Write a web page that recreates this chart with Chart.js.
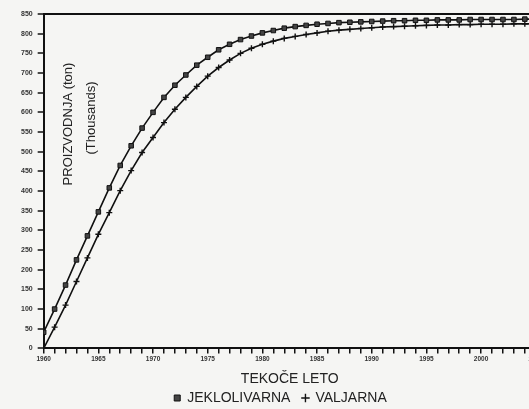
<!DOCTYPE html>
<html>
<head>
<meta charset="utf-8">
<script src="https://cdn.jsdelivr.net/npm/chart.js@4"></script>
<style>
  html, body { margin: 0; padding: 0; background: #f5f5f3; overflow: hidden; }
  #wrap { position: relative; width: 545px; height: 409px; }
</style>
</head>
<body>
<div id="wrap"><canvas id="chart"></canvas></div>
<script>
// years on the x axis
const years = [];
for (let y = 1960; y <= 2005; y++) years.push(y);

// production, thousands of tons
const jeklolivarna = [41, 100, 161, 225, 286, 347, 408, 465, 515, 560,
    600, 638, 669, 695, 720, 740, 759, 773, 785, 794,
    802, 808, 814, 818, 821, 824, 826, 828, 829, 830,
    831, 832, 833, 833, 834, 834, 835, 835, 835, 836,
    836, 836, 836, 836, 837, 837];
const valjarna = [0, 54, 110, 170, 230, 290, 345, 401, 452, 498,
    536, 574, 608, 638, 666, 692, 714, 733, 750, 763,
    773, 781, 788, 793, 798, 802, 806, 809, 811, 813,
    815, 817, 818, 819, 820, 821, 822, 822, 823, 823,
    824, 824, 824, 825, 825, 825];

const yMax = 850;
const yStep = 50;

function toPoints(vals) {
    return vals.map((v, i) => ({ x: years[i], y: v }));
}

// rotated axis caption that sits inside the plot
const insideCaption = {
    id: "insideCaption",
    afterDraw(chart) {
        const ctx = chart.ctx;
        const a = chart.chartArea;
        ctx.save();
        ctx.fillStyle = "#222";
        ctx.textAlign = "center";
        ctx.textBaseline = "middle";
        ctx.font = "13px 'Liberation Sans', Arial, sans-serif";
        ctx.translate(a.left + 25, a.top + 110);
        ctx.rotate(-Math.PI / 2);
        ctx.fillText("PROIZVODNJA (ton)", 0, 0);
        ctx.fillText("(Thousands)", 6, 23);
        ctx.restore();
    }
};

new Chart(document.getElementById("chart"), {
    type: "line",
    data: {
        datasets: [{
            label: "JEKLOLIVARNA",
            data: toPoints(jeklolivarna),
            borderColor: "#111",
            backgroundColor: "#333",
            borderWidth: 1.6,
            pointStyle: "rect",
            pointRadius: 3.2,
            pointBackgroundColor: "#444",
            pointBorderColor: "#111",
            pointBorderWidth: 1,
            tension: 0
        }, {
            label: "VALJARNA",
            data: toPoints(valjarna),
            borderColor: "#111",
            backgroundColor: "#111",
            borderWidth: 1.6,
            pointStyle: "cross",
            pointRadius: 3,
            pointBorderColor: "#111",
            pointBorderWidth: 1.4,
            tension: 0
        }]
    },
    options: {
        responsive: true,
        maintainAspectRatio: false,
        animation: false,
        layout: { padding: { top: 14, left: 16, right: 0, bottom: -6 } },
        plugins: {
            legend: {
                position: "bottom",
                labels: {
                    usePointStyle: true,
                    boxWidth: 6,
                    boxHeight: 6,
                    padding: 12,
                    color: "#222",
                    font: { family: "'Liberation Sans', Arial, sans-serif", size: 14 }
                }
            },
            tooltip: { enabled: false }
        },
        scales: {
            x: {
                type: "linear",
                min: 1960,
                max: 2005,
                border: { display: true, color: "#111", width: 2 },
                grid: { drawOnChartArea: false, drawTicks: true, tickLength: 5, color: "#111", lineWidth: 1.5 },
                ticks: {
                    stepSize: 1,
                    autoSkip: false,
                    maxRotation: 0,
                    padding: 2,
                    color: "#333",
                    font: { family: "'Liberation Sans', Arial, sans-serif", size: 6.5, weight: "bold" },
                    callback: v => (v % 5 === 0 ? String(v) : "")
                },
                title: {
                    display: true,
                    text: "TEKOČE LETO",
                    color: "#222",
                    padding: { top: 6, bottom: -9 },
                    font: { family: "'Liberation Sans', Arial, sans-serif", size: 14 }
                }
            },
            y: {
                min: 0,
                max: yMax,
                border: { display: true, color: "#111", width: 2 },
                grid: {
                    drawOnChartArea: true,
                    tickLength: 6,
                    lineWidth: 2,
                    color: c => (c.tick && c.tick.value === yMax ? "#111" : "rgba(0,0,0,0)"),
                    tickColor: "#111",
                    tickWidth: 1.5
                },
                ticks: {
                    stepSize: yStep,
                    padding: 5,
                    color: "#333",
                    font: { family: "'Liberation Sans', Arial, sans-serif", size: 7, weight: "bold" }
                }
            }
        }
    },
    plugins: [insideCaption]
});
</script>
</body>
</html>
